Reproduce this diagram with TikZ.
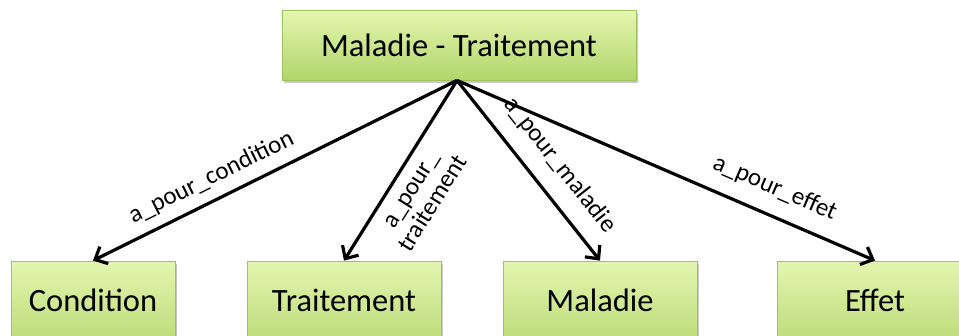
\documentclass[tikz,border=0pt]{standalone}
\usepackage{fontspec}
\setmainfont{Carlito}
\usetikzlibrary{arrows.meta,shadows}

\definecolor{boxtop}{HTML}{E4F6B0}
\definecolor{boxbottom}{HTML}{B2D56B}
\definecolor{boxline}{HTML}{9EC35C}

\tikzset{
  conceptbox/.style={
    draw=boxline, line width=0.8pt,
    top color=boxtop, bottom color=boxbottom,
    drop shadow={shadow xshift=1.5pt, shadow yshift=-3pt, opacity=0.3, fill=black!70},
    text=black, inner sep=0pt
  },
  boxlabel/.style={font=\fontsize{32.5}{36}\selectfont, inner sep=0pt},
  relation/.style={
    -{Straight Barb[length=10pt,width=19pt]}, line width=3.2pt, black
  },
  relabel/.style={
    font=\fontsize{25}{25}\selectfont, sloped, inner sep=0pt
  }
}

\begin{document}
\begin{tikzpicture}[x=1pt,y=-1pt]
  \useasboundingbox (0,0) rectangle (959,335);
  \clip (0,0) rectangle (959,335);

  % the main class and its four related classes
  \node[conceptbox, boxlabel, minimum width=354pt, minimum height=70pt] (top) at (459,45) {Maladie - Traitement};
  \node[conceptbox, minimum width=164pt, minimum height=100pt] (cond) at (93,311) {};
  \node[conceptbox, minimum width=194pt, minimum height=100pt] (trait) at (344,311) {};
  \node[conceptbox, minimum width=194pt, minimum height=100pt] (mal) at (600,311) {};
  \node[conceptbox, minimum width=196pt, minimum height=100pt] (eff) at (875,311) {};

  % labels of the lower boxes, kept on the visible part of each box
  \node[boxlabel] (condt) at (93,300) {Condition};
  \node[boxlabel] (traitt) at (344,300) {Traitement};
  \node[boxlabel] (malt) at (600,300) {Maladie};
  \node[boxlabel] (efft) at (875,300) {Effet};

  % relations
  \coordinate (hub) at ([xshift=-2pt]top.south);
  \draw[relation] (hub) -- (cond.north)
    node[relabel, pos=0.648, yshift=22pt] (lcond) {a\_pour\_condition};
  \draw[relation] (hub) -- (trait.north)
    node[relabel, pos=0.55, yshift=-33pt, align=center] (ltrait) {a\_pour\_\\[1pt]traitement};
  \draw[relation] (hub) -- (mal.north)
    node[relabel, pos=0.566, yshift=28pt] (lmal) {a\_pour\_maladie};
  \draw[relation] (hub) -- (eff.north)
    node[relabel, pos=0.735, yshift=27pt] (leff) {a\_pour\_effet};
\end{tikzpicture}
\end{document}
